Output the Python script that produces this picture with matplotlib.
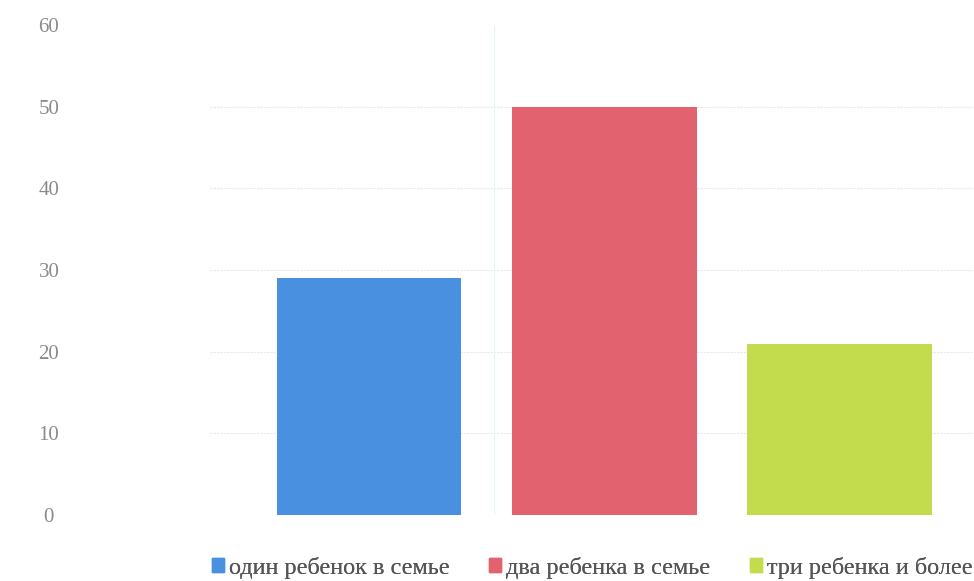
import matplotlib.pyplot as plt
from matplotlib.patches import Patch

# data
categories = ['один ребенок в семье', 'два ребенка в семье', 'три ребенка и более']
values = [29, 50, 21]
colors = ['#4a90e0', '#e2636f', '#c2dc4e']
yticks = [0, 10, 20, 30, 40, 50, 60]

plt.rcParams['font.family'] = ['Liberation Serif', 'DejaVu Serif']

fig = plt.figure(figsize=(9.74, 5.81), dpi=100)
ax = fig.add_axes([210 / 974, 1 - 515 / 581, 764 / 974, 490 / 581])

x = range(len(values))
ax.bar(x, values, width=0.785, color=colors, zorder=2)

ax.set_xlim(-0.675, 2.57)
ax.set_ylim(0, 60)
ax.set_yticks(yticks)
ax.set_xticks([])
for y in yticks[:-1]:
    ax.axhline(y, color='#e6e9ee', lw=0.8, ls=(0, (2, 1)), zorder=1)
ax.axvline(0.53, color='#e6f4f8', lw=0.8, zorder=1)

for s in ax.spines.values():
    s.set_visible(False)
ax.tick_params(axis='y', length=0, pad=116, labelsize=15, labelcolor='#8a8a8a')
for t in ax.get_yticklabels():
    t.set_horizontalalignment('center')

# legend entries placed one by one, like the original
leg_x = [212, 489, 750]
for c, l, lx in zip(colors, categories, leg_x):
    leg = fig.legend(handles=[Patch(color=c, label=l)], loc='center left',
                     bbox_to_anchor=(lx / 974, 1 - 568 / 581), frameon=False,
                     fontsize=17.5, labelcolor='#555555', borderpad=0, borderaxespad=0,
                     handlelength=0.5, handleheight=0.5, handletextpad=0.2)
    fig.add_artist(leg)

fig.savefig('out.png', dpi=100)
